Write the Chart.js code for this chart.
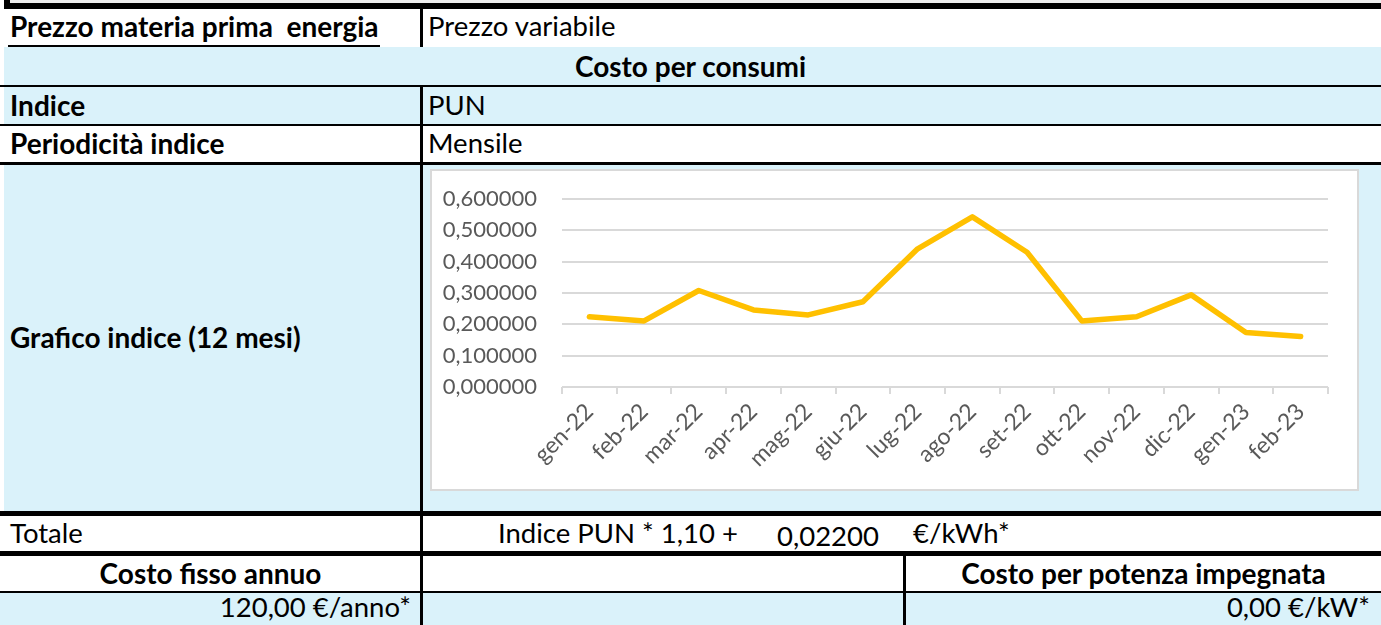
<!DOCTYPE html>
<html>
<head>
<meta charset="utf-8">
<script src="https://cdn.jsdelivr.net/npm/chart.js@4"></script>
<style>
  html, body { margin: 0; padding: 0; background: #fff; }
  body { width: 1381px; height: 625px; position: relative; overflow: hidden; font-family: Lato, sans-serif; color: #000; }
  .abs { position: absolute; }
  .blk { position: absolute; background: #000; }
  .blue { background: #daf2fa; }
  .txt { position: absolute; font-size: 27.5px; white-space: pre; line-height: 1; }
  .b { font-weight: bold; font-size: 28px; }
  #chartBox { position: absolute; left: 430px; top: 169px; width: 925px; height: 318px; background: #fff; border: 2px solid #d9d9d9; }
  #chartWrap { position: absolute; left: 0; top: 0; width: 925px; height: 318px; }
</style>
</head>
<body>
  <!-- bande in alto -->
  <div class="abs" style="left:10px;top:0;width:1371px;height:3px;background:#eee"></div>
  <div class="blk" style="left:4px;top:3px;width:1377px;height:6px"></div>
  <div class="blk" style="left:4px;top:0;width:6px;height:9px"></div>

  <!-- righe -->
  <div class="abs blue" style="left:4px;top:47px;width:1377px;height:38px"></div>
  <div class="abs blue" style="left:4px;top:87px;width:1377px;height:37px"></div>
  <div class="abs blue" style="left:4px;top:165px;width:1377px;height:346px"></div>
  <div class="abs blue" style="left:0;top:593px;width:1381px;height:32px"></div>

  <!-- linee orizzontali -->
  <div class="blk" style="left:8px;top:45px;width:372px;height:2px"></div>
  <div class="blk" style="left:0;top:85px;width:1381px;height:2px"></div>
  <div class="blk" style="left:0;top:124px;width:1381px;height:2px"></div>
  <div class="blk" style="left:0;top:162px;width:1381px;height:3px"></div>
  <div class="blk" style="left:0;top:511px;width:1381px;height:5px"></div>
  <div class="blk" style="left:0;top:551px;width:1381px;height:5px"></div>
  <div class="blk" style="left:0;top:591px;width:1381px;height:2px"></div>

  <!-- linee verticali -->
  <div class="blk" style="left:420px;top:9px;width:3px;height:38px"></div>
  <div class="blk" style="left:420px;top:85px;width:3px;height:540px"></div>
  <div class="blk" style="left:903px;top:551px;width:3px;height:74px"></div>

  <!-- testi -->
  <div class="txt b" style="left:10px;top:12px">Prezzo materia prima  energia</div>
  <div class="txt" style="left:428px;top:12px">Prezzo variabile</div>
  <div class="txt b" style="left:0;top:52px;width:1381px;text-align:center">Costo per consumi</div>
  <div class="txt b" style="left:10px;top:91px">Indice</div>
  <div class="txt" style="left:428px;top:91px">PUN</div>
  <div class="txt b" style="left:10px;top:129px">Periodicità indice</div>
  <div class="txt" style="left:428px;top:129px">Mensile</div>
  <div class="txt b" style="left:10px;top:323px">Grafico indice (12 mesi)</div>
  <div class="txt" style="left:10px;top:519px">Totale</div>
  <div class="txt" style="left:498px;top:519px">Indice PUN * 1,10 +</div>
  <div class="txt" style="left:777px;top:522px">0,02200</div>
  <div class="txt" style="left:913px;top:519px">€/kWh*</div>
  <div class="txt b" style="left:0;top:559px;width:421px;text-align:center">Costo fisso annuo</div>
  <div class="txt b" style="left:906px;top:559px;width:475px;text-align:center">Costo per potenza impegnata</div>
  <div class="txt" style="left:0;top:593px;width:411px;text-align:right">120,00 €/anno*</div>
  <div class="txt" style="left:906px;top:593px;width:464px;text-align:right">0,00 €/kW*</div>

  <div id="chartBox"><div id="chartWrap"><canvas id="punChart"></canvas></div></div>

<script>
// dati
const mesi = ['gen-22', 'feb-22', 'mar-22', 'apr-22', 'mag-22', 'giu-22', 'lug-22',
              'ago-22', 'set-22', 'ott-22', 'nov-22', 'dic-22', 'gen-23', 'feb-23'];
const valoriPun = [0.224, 0.211, 0.308, 0.246, 0.230, 0.272, 0.441,
                   0.543, 0.430, 0.211, 0.224, 0.294, 0.174, 0.161];
const yMin = 0;
const yMax = 0.6;
const yStep = 0.1;

Chart.defaults.font.family = 'Lato, sans-serif';
Chart.defaults.color = '#595959';

const ctx = document.getElementById('punChart').getContext('2d');
new Chart(ctx, {
    type: 'line',
    data: {
        labels: mesi,
        datasets: [{
            label: 'PUN',
            data: valoriPun,
            borderColor: '#ffc000',
            backgroundColor: '#ffc000',
            borderWidth: 5.5,
            borderCapStyle: 'round',
            borderJoinStyle: 'round',
            pointRadius: 0,
            tension: 0,
            fill: false
        }]
    },
    options: {
        responsive: true,
        maintainAspectRatio: false,
        animation: false,
        layout: { padding: { top: 28, right: 29, left: 0, bottom: 0 } },
        plugins: {
            legend: { display: false },
            tooltip: { enabled: false }
        },
        scales: {
            x: {
                offset: true,
                grid: {
                    offset: true,
                    drawOnChartArea: false,
                    drawTicks: true,
                    tickLength: 7,
                    color: '#d9d9d9',
                    lineWidth: 2
                },
                border: { display: false },
                ticks: {
                    autoSkip: false,
                    maxRotation: 45,
                    minRotation: 45,
                    padding: 4,
                    font: { size: 23 }
                },
                afterFit: function (scale) { scale.height = 102; }
            },
            y: {
                min: yMin,
                max: yMax,
                grid: {
                    color: '#d9d9d9',
                    lineWidth: 2,
                    drawTicks: true,
                    tickLength: 22,
                    tickColor: 'rgba(0,0,0,0)'
                },
                border: { display: false },
                ticks: {
                    stepSize: yStep,
                    padding: 3,
                    font: { size: 22 },
                    callback: v => v.toFixed(6).replace('.', ',')
                },
                afterFit: function (scale) { scale.width = 130; }
            }
        }
    }
});
</script>
</body>
</html>
